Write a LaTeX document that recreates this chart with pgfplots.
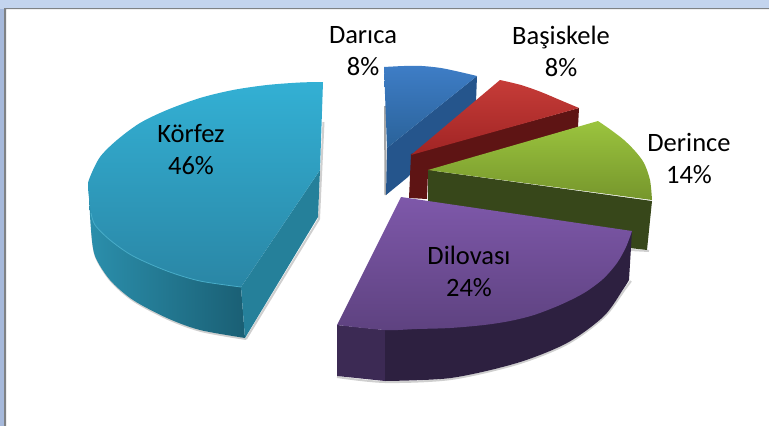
\documentclass[border=0pt]{standalone}
\usepackage{pgfplots}
\pgfplotsset{compat=1.18}
\usepackage{fontspec}
\setmainfont{Carlito}
\definecolor{bandtop}{HTML}{C3D4EE}
\definecolor{bandleft}{HTML}{A6B9DB}
\definecolor{frameg}{HTML}{7F8285}
\definecolor{shad}{HTML}{CFCFCF}
\tikzset{lab/.style={font=\fontsize{26.5}{32}\selectfont,align=center}}
\begin{document}
\begin{tikzpicture}
\begin{axis}[at={(0,0)},anchor=south west,scale only axis,width=769pt,height=426pt,
  xmin=0,xmax=769,ymin=0,ymax=426,y dir=reverse,axis lines=none,clip=true,
  every axis plot/.append style={no markers}]
% page frame
\addplot[draw=none,fill=bandtop] coordinates {(0,0)(769,0)(769,9)(0,9)} -- cycle;
\addplot[draw=none,fill=bandleft] coordinates {(0,9)(5,9)(5,426)(0,426)} -- cycle;
\addplot[draw=none,fill=frameg] coordinates {(4,8)(769,8)(769,9.2)(6,9.2)(6,426)(4,426)} -- cycle;
% shadows
\addplot[draw=shad,line width=2pt,smooth] coordinates {(92,232)(96,257)(111,281)(134,301)(168,319)(201,331)(246,339)};
\addplot[draw=shad,line width=2pt] coordinates {(246,339)(319,219)(323.5,122)};
\addplot[draw=shad,line width=2pt,smooth] coordinates {(337,377)(385,382)(451,379)(517,364)(567,344)(604,317)(625,289)(631,281)};
\addplot[draw=shad,line width=2pt] coordinates {(649,251)(630,250)};
\addplot[draw=gray!70,line width=2pt] coordinates {(385,106)(385.5,195)};
% Korfez 46
\addplot[draw=none,shade,left color={rgb,255:red,43;green,143;blue,172},right color={rgb,255:red,26;green,95;blue,116},smooth]
  coordinates {(89,195)(91,230)(95,256)(110,280)(133,300)(167,318)(200,330)(245,338)} -- (axis cs:241,287) -- cycle;
\addplot[draw=none,fill={rgb,255:red,37;green,128;blue,154}]
  coordinates {(241,287)(320,170)(318,217)(245,338)} -- cycle;
\addplot[draw=none,shade,top color={rgb,255:red,51;green,176;blue,212},bottom color={rgb,255:red,42;green,134;blue,165},smooth]
  coordinates {(323,82)(300,82.5)(267,85)(233,90)(200,98)(167,110)(140,123)(117,140)(100,157)(90,177)(88,187)
  (91,213)(95,225)(110,240)(133,256)(167,271)(200,281)(241,287)} -- (axis cs:320,170) -- cycle;
\addplot[draw={rgb,255:red,72;green,172;blue,200},line width=0.8pt,smooth]
  coordinates {(91,213)(95,225)(110,240)(133,256)(167,271)(200,281)(241,287)};
% Darica 8
\addplot[draw=none,fill={rgb,255:red,37;green,85;blue,140}]
  coordinates {(387,148)(477,76)(476,102)(408,177)(386,195)} -- cycle;
\addplot[draw=none,shade,top color={rgb,255:red,62;green,125;blue,198},bottom color={rgb,255:red,42;green,98;blue,153},smooth]
  coordinates {(384,67)(404,66)(422,66)(441,68)(460,72)(477,76)} -- (axis cs:387,148) -- cycle;
% Basiskele 8
\addplot[draw=none,fill={rgb,255:red,94;green,20;blue,20}]
  coordinates {(411,154)(579,108)(578,127)(428,172)(427,199)(409,198)} -- cycle;
\addplot[draw=none,shade,top color={rgb,255:red,198;green,60;blue,56},bottom color={rgb,255:red,160;green,36;blue,36},smooth]
  coordinates {(500,80)(521,85)(541,92)(560,100)(579,108)} -- (axis cs:411,155) -- cycle;
% Derince 14
\addplot[draw=none,fill={rgb,255:red,55;green,71;blue,26}]
  coordinates {(428,170)(652,201)(647,250)(428,225)} -- cycle;
\addplot[draw=none,shade,top color={rgb,255:red,155;green,196;blue,62},bottom color={rgb,255:red,118;green,150;blue,44},smooth]
  coordinates {(598,121)(611,130)(624,140)(635,151)(644,163)(650,180)(652,200)} -- (axis cs:428,170) -- cycle;
% Dilovasi 24
\addplot[draw=none,fill={rgb,255:red,60;green,42;blue,84}]
  coordinates {(337,325)(385,330)(385,381)(337,376)} -- cycle;
\addplot[draw=none,fill={rgb,255:red,45;green,32;blue,64},smooth]
  coordinates {(629,280)(624,288)(604,316)(567,343)(517,363)(451,378)(385,381)} -- (axis cs:385,330) -- (axis cs:632,231) -- cycle;
\addplot[draw=none,shade,top color={rgb,255:red,126;green,88;blue,170},bottom color={rgb,255:red,94;green,66;blue,128},smooth]
  coordinates {(632,231)(626,247)(617,263)(603,279)(584,293)(560,305)(534,315)(510,321)(484,325)(450,328)(417,329)(385,330)(337,325)} -- (axis cs:401,197) -- cycle;
% labels
\node[lab] at (axis cs:363,51) {Darıca\\8\%};
\node[lab] at (axis cs:561,51) {Başiskele\\8\%};
\node[lab] at (axis cs:689,158) {Derince\\14\%};
\node[lab] at (axis cs:191,150) {Körfez\\46\%};
\node[lab] at (axis cs:469,271) {Dilovası\\24\%};
\end{axis}
\pgfresetboundingbox
\path[use as bounding box] (0,0) rectangle (769pt,426pt);
\end{tikzpicture}
\end{document}
